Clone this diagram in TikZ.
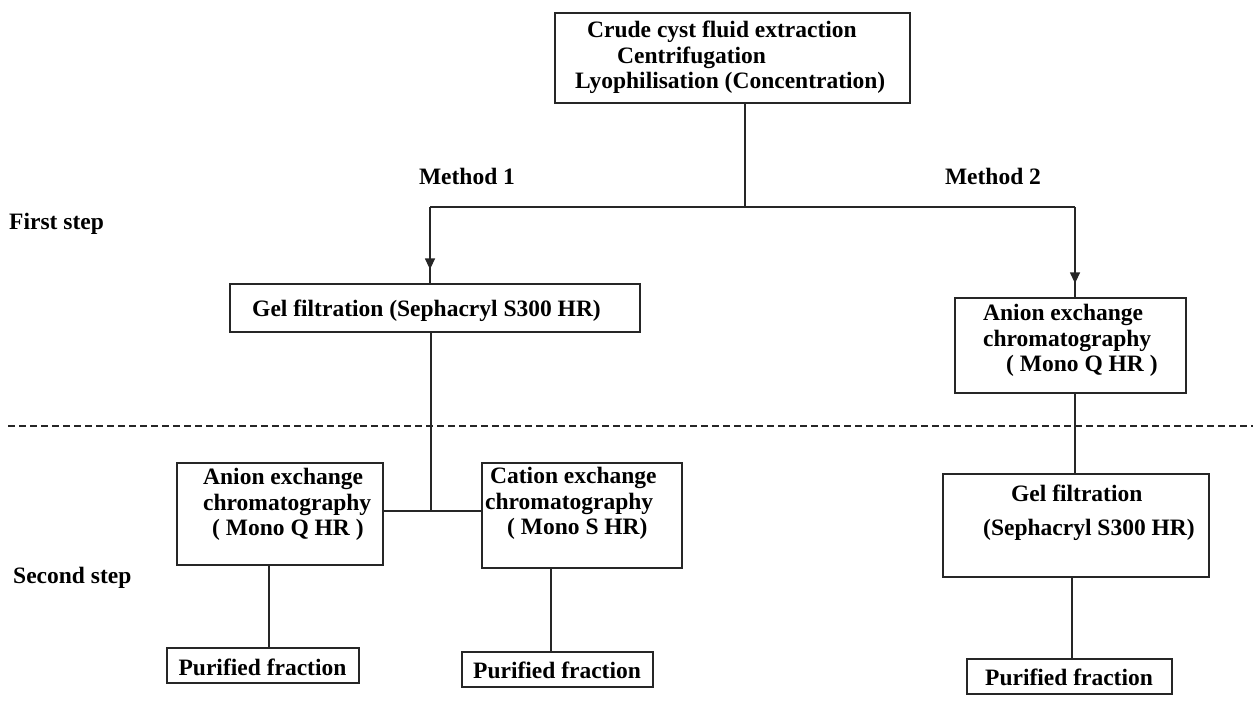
\documentclass[tikz,border=0pt]{standalone}
\usepackage{fontspec}
\setmainfont{Liberation Serif}
\usetikzlibrary{arrows.meta,decorations.markings}
\tikzset{
  box/.style={draw=black!85, line width=1.2pt, inner sep=0pt},
  txt/.style={font=\fontsize{23.5}{25.5}\selectfont\bfseries, inner sep=0pt, align=left, anchor=west},
  ctxt/.style={font=\fontsize{23.5}{25.5}\selectfont\bfseries, inner sep=0pt},
  conn/.style={draw=black!85, line width=1.2pt},
  arr/.style={conn, postaction=decorate,
    decoration={markings, mark=at position -14pt with {\arrow{Triangle[width=10pt,length=11pt]}}}},
  dashline/.style={draw=black!85, line width=1.2pt, dash pattern=on 7pt off 4pt},
  lbl/.style={font=\fontsize{23.5}{26}\selectfont\bfseries, inner sep=0pt}
}
\begin{document}
\begin{tikzpicture}[x=1pt,y=-1pt]
\useasboundingbox (0,0) rectangle (1253,722);

% top box
\node[box, minimum width=355pt, minimum height=90pt] (top) at (732.5,58) {};
\node[txt] (topt) at (575,57.5) {\hspace{12pt}Crude cyst fluid extraction\\\hspace{42pt}Centrifugation\\Lyophilisation (Concentration)};

% labels
\node[lbl] (m1) at (467,176) {Method 1};
\node[lbl] (m2) at (993,176) {Method 2};
\node[lbl, anchor=west] (s1) at (9,224) {First step};
\node[lbl, anchor=west] (s2) at (13,578) {Second step};

% first step boxes
\node[box, minimum width=410pt, minimum height=48pt] (gel1) at (435,308) {};
\node[ctxt] (gel1t) at (426.5,311) {Gel filtration (Sephacryl S300 HR)};

\node[box, minimum width=231pt, minimum height=95pt] (an2) at (1070.5,345.5) {};
\node[txt] (an2t) at (983,340.5) {Anion exchange\\chromatography\\\hspace{23pt}( Mono Q HR )};

% branches
\coordinate (hub) at (745,207);
\coordinate (b1) at (430,207);
\coordinate (b2) at (1075,207);
\draw[conn] (top.south -| hub) -- (hub);
\draw[conn] (b1) -- (b2);
\draw[arr] (b1) -- (gel1.north -| b1);
\draw[arr] (b2) -- (an2.north -| b2);

% dashed separator
\coordinate (dl) at (8,426);
\coordinate (dr) at (1253,426);
\draw[dashline] (dl) -- (dr);

% second step, method 1
\node[box, minimum width=206pt, minimum height=102pt] (an1) at (280,514) {};
\node[txt] (an1t) at (203,504.5) {Anion exchange\\chromatography\\\hspace{9pt}( Mono Q HR )};
\node[box, minimum width=200pt, minimum height=105pt] (cat) at (582,515.5) {};
\node[txt] (catt) at (485,503.5) {\hspace{5pt}Cation exchange\\chromatography\\\hspace{22pt}( Mono S HR)};

\coordinate (j) at (431,511);
\draw[conn] (gel1.south -| j) -- (j);
\draw[conn] (an1.east |- j) -- (cat.west |- j);

\node[box, minimum width=192pt, minimum height=35pt] (purL) at (263,665.5) {};
\node[ctxt] (purLt) at (262.5,667) {Purified fraction};
\node[box, minimum width=191pt, minimum height=35pt] (purM) at (557.5,669.5) {};
\node[ctxt] (purMt) at (557,670) {Purified fraction};
\coordinate (cL) at (269,0);
\coordinate (cM) at (551,0);
\draw[conn] (an1.south -| cL) -- (purL.north -| cL);
\draw[conn] (cat.south -| cM) -- (purM.north -| cM);

% second step, method 2
\node[box, minimum width=266pt, minimum height=103pt] (gelR) at (1076,525.5) {};
\node[txt] (gelRt) at (983,513) {\hspace{28pt}Gel filtration\\[8pt](Sephacryl S300 HR)};
\draw[conn] (an2.south -| b2) -- (gelR.north -| b2);

\node[box, minimum width=205pt, minimum height=35pt] (purR) at (1069.5,676.5) {};
\node[ctxt] (purRt) at (1069,677) {Purified fraction};
\coordinate (cR) at (1072,0);
\draw[conn] (gelR.south -| cR) -- (purR.north -| cR);
\end{tikzpicture}
\end{document}
